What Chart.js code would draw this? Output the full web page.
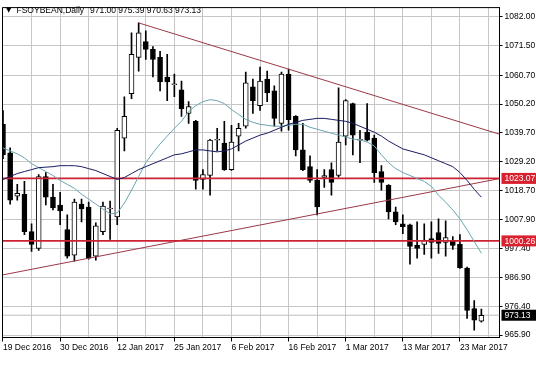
<!DOCTYPE html>
<html>
<head>
<meta charset="utf-8">
<title>FSOYBEAN Daily</title>
<script src="https://cdn.jsdelivr.net/npm/chart.js@4.4.1/dist/chart.umd.min.js"></script>
<style>
  html, body { margin: 0; padding: 0; background: #fff; }
  #wrap { width: 536px; height: 377px; position: relative; }
</style>
</head>
<body>
<div id="wrap"><canvas id="priceChart"></canvas></div>
<script>
// FSOYBEAN daily candles, 19 Dec 2016 .. 28 Mar 2017 (one entry per bar)

const symbolName = 'FSOYBEAN,Daily';

const open = [
  1042.82, 1032.40, 1016.58, 1017.30, 1003.64, 997.53, 1023.77, 1016.22, 1013.35, 1004.36,
  995.01, 1013.70, 1012.63, 994.65, 1003.64, 1011.91, 1009.03, 1037.79, 1053.96, 1067.26,
  1073.01, 1070.14, 1067.26, 1060.07, 1057.30, 1055.40, 1046.77, 1043.90, 1022.69, 1024.13,
  1037.00, 1035.99, 1026.28, 1038.51, 1042.10, 1056.48, 1049.65, 1059.35, 1055.04, 1043.18,
  1061.15, 1045.70, 1033.47, 1027.36, 1022.33, 1023.41, 1026.28, 1024.13, 1038.51, 1050.37,
  1037.00, 1039.94, 1037.79, 1025.57, 1020.53, 1010.83, 1006.52, 1006.16, 998.61, 998.97,
  1001.12, 1003.28, 999.69, 1000.40, 998.97, 990.34, 975.60, 971.00
];
const high = [
  1047.85, 1034.19, 1020.89, 1021.97, 1006.52, 1024.49, 1025.21, 1020.89, 1018.02, 1009.75,
  1015.50, 1015.50, 1014.42, 1006.87, 1014.42, 1014.78, 1041.38, 1052.88, 1076.25, 1079.84,
  1076.97, 1071.22, 1069.42, 1068.34, 1061.15, 1058.64, 1051.09, 1044.26, 1026.28, 1037.30,
  1041.38, 1043.90, 1042.46, 1043.18, 1061.87, 1059.35, 1063.67, 1062.23, 1056.84, 1061.87,
  1062.95, 1046.00, 1043.18, 1031.32, 1026.28, 1026.28, 1028.80, 1056.12, 1051.80, 1050.60,
  1040.66, 1050.37, 1038.87, 1027.72, 1020.80, 1012.63, 1009.75, 1006.40, 1007.23, 1006.52,
  1007.23, 1008.31, 1007.59, 1001.84, 1002.56, 990.70, 978.48, 975.39
];
const low = [
  1030.24, 1013.70, 1015.14, 1002.56, 996.45, 996.81, 1013.35, 1011.55, 1006.16, 993.93,
  992.86, 1007.23, 993.57, 993.22, 1002.56, 1000.76, 1006.16, 1033.11, 1052.17, 1062.23,
  1066.54, 1060.07, 1055.04, 1051.45, 1052.88, 1045.70, 1043.18, 1019.10, 1019.10, 1016.94,
  1033.11, 1026.00, 1026.00, 1033.11, 1041.38, 1046.77, 1047.85, 1051.09, 1042.10, 1040.30,
  1040.66, 1031.32, 1025.93, 1021.61, 1009.75, 1019.82, 1016.94, 1023.50, 1035.27, 1031.68,
  1028.80, 1036.71, 1021.61, 1018.74, 1008.31, 1006.16, 1002.92, 991.78, 993.93, 995.37,
  993.93, 995.73, 994.65, 997.17, 990.20, 972.01, 967.69, 970.63
];
const close = [
  1031.68, 1015.14, 1017.66, 1003.64, 998.97, 1023.77, 1016.22, 1012.27, 1011.19, 994.65,
  1014.42, 1011.91, 993.93, 1005.80, 1012.99, 1012.27, 1040.66, 1045.70, 1068.34, 1076.25,
  1070.14, 1066.54, 1058.28, 1058.28, 1057.60, 1048.57, 1049.29, 1022.33, 1024.49, 1037.07,
  1037.30, 1026.28, 1036.35, 1041.38, 1057.92, 1051.45, 1058.64, 1054.32, 1044.98, 1061.15,
  1044.50, 1033.47, 1026.28, 1022.33, 1012.63, 1024.13, 1021.61, 1036.35, 1051.45, 1038.87,
  1037.30, 1037.07, 1025.21, 1021.61, 1010.83, 1007.23, 1005.44, 998.25, 997.53, 1000.40,
  999.69, 999.33, 1001.48, 998.61, 990.50, 974.88, 971.29, 973.13
];

// moving averages (dark = slow, light = fast)
const maSlow = [
  1022.69, 1023.77, 1024.85, 1025.57, 1026.28, 1027.00, 1027.18, 1027.36, 1027.72, 1027.72,
  1027.72, 1027.36, 1026.64, 1025.93, 1024.85, 1023.77, 1022.69, 1023.41, 1024.85, 1026.28,
  1027.36, 1028.44, 1029.52, 1030.60, 1031.68, 1032.04, 1032.75, 1033.47, 1033.47, 1033.11,
  1032.75, 1033.11, 1033.83, 1035.27, 1036.71, 1037.79, 1038.87, 1039.58, 1040.66, 1041.74,
  1042.82, 1043.54, 1044.26, 1044.62, 1044.98, 1044.98, 1044.62, 1044.26, 1043.90, 1043.18,
  1042.10, 1041.02, 1039.94, 1038.51, 1036.71, 1035.27, 1033.83, 1033.11, 1032.40, 1031.68,
  1030.60, 1029.52, 1028.44, 1027.36, 1025.21, 1022.33, 1019.10, 1016.22
];
const maFast = [
  1034.19, 1033.11, 1032.04, 1030.60, 1028.44, 1027.00, 1025.57, 1024.13, 1022.33, 1020.89,
  1019.46, 1017.30, 1015.50, 1013.70, 1011.91, 1010.11, 1010.47, 1014.06, 1018.74, 1023.77,
  1028.80, 1032.40, 1035.63, 1038.51, 1041.38, 1043.90, 1047.49, 1049.65, 1051.09, 1051.81,
  1051.45, 1050.37, 1048.21, 1046.42, 1044.62, 1043.54, 1042.82, 1042.46, 1042.10, 1042.10,
  1042.46, 1042.82, 1042.82, 1041.74, 1041.02, 1040.30, 1039.58, 1038.87, 1038.15, 1037.43,
  1037.07, 1036.35, 1034.91, 1031.68, 1028.80, 1026.64, 1025.21, 1024.13, 1023.05, 1021.97,
  1020.17, 1016.94, 1014.42, 1011.55, 1008.31, 1004.36, 1000.05, 995.73
];

// axis ticks
const dateBars = [0, 8, 16, 24, 32, 40, 48, 56, 64];
const dateLabels = ['19 Dec 2016', '30 Dec 2016', '12 Jan 2017', '25 Jan 2017', '6 Feb 2017',
  '16 Feb 2017', '1 Mar 2017', '13 Mar 2017', '23 Mar 2017'];
const gridBars = [0, 4, 8, 12, 16, 20, 24, 28, 32, 36, 40, 44, 48, 52, 56, 60, 64, 68];
const priceTicks = [965.90, 976.40, 986.90, 997.40, 1007.90, 1018.70, 1029.20, 1039.70,
  1050.20, 1060.70, 1071.50, 1082.00];

// drawn objects: horizontal levels and two trend lines (bar index, price)
const levels = [1023.07, 1000.26];
const upperTrendX = [19, 69.54];
const upperTrendY = [1079.84, 1039.20];
const lowerTrendX = [-0.14, 69.54];
const lowerTrendY = [987.80, 1023.00];

const X_MIN = -0.14, X_MAX = 69.54;
const FONT = '"Liberation Sans", Arial, sans-serif';

document.addEventListener('DOMContentLoaded', () => {
  initChart();
});

function lineSet(xs, ys, color, width, order) {
  return {
    type: 'line',
    data: xs.map((x, i) => ({ x: x, y: ys[i] })),
    borderColor: color,
    borderWidth: width,
    pointRadius: 0,
    tension: 0,
    order: order
  };
}

/* --- overlay: frame, title, price boxes --- */
const overlay = {
  id: 'overlay',
  afterDraw(chart) {
    const { ctx, chartArea: a, scales } = chart;
    const last = close.length - 1;
    ctx.save();

    ctx.strokeStyle = '#000';
    ctx.lineWidth = 1;
    ctx.beginPath();
    ctx.moveTo(a.left + 0.5, a.bottom);
    ctx.lineTo(a.left + 0.5, a.top + 0.5);
    ctx.lineTo(a.right, a.top + 0.5);
    ctx.stroke();

    // title
    ctx.fillStyle = '#000';
    ctx.textBaseline = 'middle';
    ctx.font = '7px "DejaVu Sans"';
    ctx.fillText('\u25BC', 6, 10.5);
    ctx.font = '8.5px ' + FONT;
    ctx.fillText(symbolName, 16.5, 10.5);
    const ohlc = [open[last], high[last], low[last], close[last]].map(v => v.toFixed(2)).join(' ');
    ctx.fillText(ohlc, 90, 10.5);

    // price boxes on the axis
    const boxes = [[levels[0], '#d8202e'], [levels[1], '#d8202e'], [close[last], '#000']];
    boxes.forEach(([v, c]) => {
      const py = scales.y.getPixelForValue(v);
      ctx.fillStyle = c;
      ctx.fillRect(a.right + 2, py - 5.5, 35, 11);
      ctx.fillStyle = '#fff';
      ctx.fillText(v.toFixed(2), a.right + 5, py + 0.5);
    });
    ctx.restore();
  }
};

/* --- chart --- */
function initChart() {
  const el = document.getElementById('priceChart');
  const bars = close.map((c, i) => i);
  const last = close.length - 1;

  new Chart(el, {
    type: 'bar',
    data: {
      datasets: [
        lineSet(bars, maSlow, '#1b1b62', 1, 0),
        lineSet(bars, maFast, '#6aa5b0', 1, 0),
        lineSet([X_MIN, X_MAX], [levels[0], levels[0]], '#cc2233', 1.6, 0),
        lineSet([X_MIN, X_MAX], [levels[1], levels[1]], '#cc2233', 1.6, 0),
        lineSet(upperTrendX, upperTrendY, '#9c3846', 1, 0),
        lineSet(lowerTrendX, lowerTrendY, '#9c3846', 1, 0),
        {
          // candle bodies
          type: 'bar',
          data: bars.map(i => ({ x: i, y: [open[i], close[i]] })),
          backgroundColor: bars.map(i => close[i] >= open[i] ? '#ffffff' : '#000000'),
          borderColor: '#000',
          borderWidth: 1,
          borderSkipped: false,
          barThickness: 5,
          grouped: false,
          order: 2
        },
        {
          // wicks
          type: 'bar',
          data: bars.map(i => ({ x: i, y: [low[i], high[i]] })),
          backgroundColor: '#000',
          borderWidth: 0,
          barThickness: 1,
          grouped: false,
          order: 3
        },
        lineSet([X_MIN, X_MAX], [close[last], close[last]], '#bdbdbd', 1, 4)
      ]
    },
    options: {
      responsive: true,
      maintainAspectRatio: false,
      animation: false,
      devicePixelRatio: 1,
      layout: { padding: { left: 2, top: 2, right: 0, bottom: 0 } },
      plugins: { legend: { display: false }, tooltip: { enabled: false } },
      scales: {
        x: {
          type: 'linear',
          min: X_MIN,
          max: X_MAX,
          offset: false,
          afterBuildTicks: s => { s.ticks = gridBars.map(v => ({ value: v })); },
          afterFit: s => { s.height = 39.5; },
          grid: {
            offset: false,
            color: '#c6c6c6',
            borderDash: [3, 3],
            tickLength: 4,
            tickBorderDash: [],
            tickColor: ctx => (ctx.tick && dateBars.includes(ctx.tick.value)) ? '#000' : 'rgba(0,0,0,0)'
          },
          border: { display: true, color: '#000', width: 1 },
          ticks: {
            autoSkip: false,
            maxRotation: 0,
            align: 'start',
            padding: 1,
            color: '#000',
            font: { family: FONT, size: 8.5 },
            callback: v => {
              const k = dateBars.indexOf(v);
              return k >= 0 ? dateLabels[k] : '';
            }
          }
        },
        y: {
          type: 'linear',
          position: 'right',
          min: 965.0,
          max: 1085.6,
          stacked: false,
          afterBuildTicks: s => { s.ticks = priceTicks.map(v => ({ value: v })); },
          afterFit: s => { s.width = 36.5; },
          grid: {
            color: '#c6c6c6',
            borderDash: [3, 3],
            tickLength: 3,
            tickBorderDash: [],
            tickColor: '#000'
          },
          border: { display: true, color: '#000', width: 1 },
          ticks: {
            crossAlign: 'near',
            padding: 2,
            color: '#000',
            font: { family: FONT, size: 8.5 },
            callback: v => v.toFixed(2)
          }
        }
      }
    },
    plugins: [overlay]
  });
}
</script>
</body>
</html>
